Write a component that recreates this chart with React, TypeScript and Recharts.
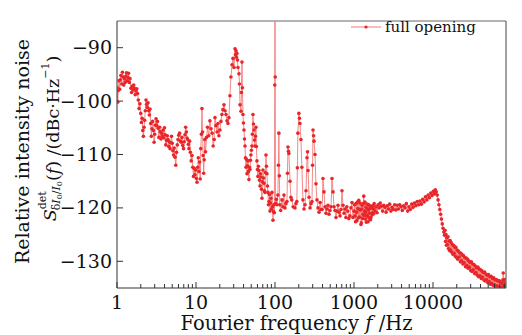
import React from 'react'
import { LineChart, Line, XAxis, YAxis, ReferenceLine, Legend } from 'recharts'

// axis settings
const freqDomain = [1, 84000]
const rinDomain = [-135, -85]
const majorFreqTicks = [1, 10, 100, 1000, 10000]
const minorFreqTicks = [
  2, 3, 4, 5, 6, 7, 8, 9,
  20, 30, 40, 50, 60, 70, 80, 90,
  200, 300, 400, 500, 600, 700, 800, 900,
  2000, 3000, 4000, 5000, 6000, 7000, 8000, 9000,
  20000, 30000, 40000, 50000, 60000, 70000, 80000
]
const rinTicks = [-130, -120, -110, -100, -90]

// [frequency Hz, RIN dBc/Hz] — 1 to 10 Hz
const band1to10: [number, number][] = [
  [1.0, -97.5], [1.02, -100.2], [1.04, -98], [1.06, -96.2], [1.08, -97.8], [1.1, -96], [1.12, -95.2],
  [1.15, -96.8], [1.17, -94.6], [1.2, -95.5], [1.22, -97], [1.25, -95.8], [1.27, -96.5], [1.3, -95.3],
  [1.32, -94.7], [1.35, -96.2], [1.38, -95.6], [1.4, -94.8], [1.43, -96.5], [1.46, -95.8], [1.5, -97.6],
  [1.53, -98.4], [1.56, -97.2], [1.6, -97.9], [1.63, -97], [1.66, -97.6], [1.7, -98.8], [1.74, -98.1],
  [1.78, -97.7], [1.82, -98.6], [1.86, -99.8], [1.9, -101.4], [1.95, -100.5], [2.0, -102.3], [2.04, -104],
  [2.08, -103.2], [2.12, -105.5], [2.16, -106.6], [2.2, -104.9], [2.24, -103.6], [2.28, -101.8], [2.33, -99.8],
  [2.37, -100.6], [2.42, -101.2], [2.47, -100.3], [2.52, -101.8], [2.57, -102.6], [2.62, -101.5], [2.67, -104.2],
  [2.72, -106.6], [2.77, -105.2], [2.83, -103.8], [2.89, -105.5], [2.95, -107.7], [3.0, -106.2], [3.06, -104.5],
  [3.12, -103.3], [3.18, -104.6], [3.25, -103.8], [3.32, -105.1], [3.39, -106.8], [3.46, -104.9], [3.53, -105.7],
  [3.6, -107.1], [3.67, -106], [3.75, -106.6], [3.83, -105.4], [3.91, -106.9], [3.99, -105], [4.07, -106.3],
  [4.15, -108.2], [4.24, -107.4], [4.33, -106.5], [4.42, -107.2], [4.51, -108.5], [4.6, -107.6], [4.7, -108.9],
  [4.8, -107.8], [4.9, -106.6], [5.0, -107.9], [5.1, -109.3], [5.2, -110.1], [5.3, -108.8], [5.42, -110.5],
  [5.55, -112], [5.67, -109.6], [5.8, -108.2], [5.92, -107.2], [6.05, -106.4], [6.2, -106], [6.35, -107.5],
  [6.5, -107.7], [6.65, -106.8], [6.8, -108.3], [6.95, -108.9], [7.1, -107.6], [7.25, -106.3], [7.4, -104.9],
  [7.55, -105.8], [7.7, -106.9], [7.85, -107.2], [8.0, -108.1], [8.15, -108.9], [8.3, -107.5], [8.5, -109.6],
  [8.7, -111.2], [8.9, -110.2], [9.1, -112.4], [9.3, -114.1], [9.5, -112.6], [9.7, -113.8], [9.9, -112.9]
]

// 10 to 100 Hz, incl. the 30 Hz hump and the 100 Hz line
const band10to100: [number, number][] = [
  [10.1, -114.5], [10.3, -115.2], [10.5, -112.4], [10.7, -110.6], [10.9, -113.2], [11.1, -111.4], [11.3, -114.6],
  [11.5, -108.9], [11.7, -106.2], [11.9, -101.4], [12.1, -105.8], [12.3, -110.2], [12.5, -113.5], [12.7, -111],
  [12.9, -107.2], [13.2, -109.5], [13.6, -106.8], [14.0, -104.9], [14.5, -106.5], [15.0, -103.7], [15.5, -105.2],
  [16.0, -106], [16.5, -108.4], [17.0, -107.2], [17.4, -103.1], [17.9, -104.6], [18.5, -105.8], [19.0, -104.2],
  [19.5, -106.5], [20.1, -105.4], [20.7, -103.8], [21.3, -102.5], [21.9, -101.6], [22.6, -100.7], [23.3, -101.8],
  [24.0, -102.5], [24.7, -103.7], [25.4, -104.2], [26.1, -103.1], [26.9, -99], [27.7, -95.5], [28.6, -93.2],
  [29.4, -92], [30.3, -93.7], [31.2, -90.2], [31.6, -91.3], [32.1, -90.6], [32.5, -91.8], [33, -91.1],
  [33.5, -92.3], [34, -93.7], [35, -94.9], [35.5, -96.8], [36.1, -100.7], [37.1, -101.9], [37.6, -98.4],
  [38.2, -92.7], [38.7, -97.5], [39.3, -102.5], [39.9, -104.1], [40.5, -105.4], [41.1, -107.1], [41.7, -108.4],
  [42.3, -110.6], [42.9, -112.4], [43.5, -110.9], [44.2, -113.6], [44.8, -112.1], [45.5, -111.2], [46.1, -113.2],
  [46.8, -114.7], [47.5, -112.4], [48.2, -112.8], [48.9, -111.1], [49.6, -110.1], [50.3, -109.2], [51.1, -108.4],
  [51.8, -106.2], [52.6, -102.5], [53.4, -104.3], [54.2, -105.4], [55, -107.3], [55.8, -108.4], [56.6, -106.6],
  [57.4, -104.9], [58.2, -108.5], [59.1, -111.2], [60, -112.8], [60.8, -114.1], [61.7, -112.2], [62.7, -113],
  [63.6, -114.8], [64.6, -115.9], [65.5, -113.6], [66.5, -114.2], [67.4, -116.5], [68.4, -118.2], [69.4, -115.1],
  [70.4, -112.9], [71.5, -114.4], [72.6, -115.4], [73.6, -116.8], [74.7, -117.1], [75.8, -113.4], [76.9, -110.1],
  [78, -112.2], [79.2, -113.6], [80.3, -115.9], [81.5, -117.1], [82.7, -119.4], [84, -118.8], [85.2, -117.5],
  [86.4, -120.6], [87.6, -119.1], [88.9, -118.2], [90.2, -120.2], [91.6, -117.1], [92.9, -119.8], [94.3, -122.3],
  [95.6, -120.7], [97, -119.4], [98.2, -120.9],
  [99.3, -97], [100, -80], [100.7, -95.5]
]

// 100 Hz to 1 kHz
const band100to1k: [number, number][] = [
  [101.5, -119.2], [104, -118.4], [106, -119.4], [108.8, -117.6], [110.5, -112], [112, -106], [113.5, -114],
  [115, -119.4], [118, -120.5], [122.6, -118.5], [126, -119.8], [129.9, -117.6], [133.6, -120], [137.5, -119.2],
  [141.7, -118.8], [144, -113.5], [146, -108.6], [148, -109.4], [150, -109.8], [155, -115], [159, -118],
  [163, -118.5], [170, -119.8], [179, -120], [184, -119.2], [189, -118.8], [192, -112.5], [195, -106],
  [200.5, -102.3], [204, -103.2], [207, -104.2], [213, -107.2], [219, -112.4], [226, -118.5], [233, -120.2],
  [240, -119.4], [247, -116.8], [254, -110.6], [258, -109.5], [262, -113], [270, -118], [278, -120],
  [286, -119.2], [294, -118.8], [299, -112], [303, -105.4], [308, -106.5], [312, -107.5], [321, -110],
  [330, -115.5], [340, -118.5], [350, -120], [361, -120.8], [372, -119], [383, -120.3], [395, -120.3],
  [405, -114.5], [417, -117], [430, -119.8], [442, -121], [455, -120.2], [469, -119.5], [483, -121.2],
  [497, -120.5], [512, -119.8], [527, -114.5], [543, -117], [559, -119.8], [575, -120.5], [592, -121.8],
  [609, -120.6], [627, -119.5], [646, -120.8], [665, -121.5], [685, -120.3], [705, -116.8], [726, -119.5],
  [748, -121], [770, -120.2], [790, -121.8], [812, -119.8], [835, -120.6], [860, -122], [889, -121.5],
  [915, -120], [943, -119], [970, -121.8], [1000, -120.6]
]

// 1 kHz to the relaxation peak near 11 kHz
const band1kTo11k: [number, number][] = [
  [1015, -119.4], [1030, -121.5], [1045, -122.6], [1060, -119.2], [1075, -120.8], [1090, -122.4], [1105, -118.9],
  [1120, -120.1], [1135, -121.9], [1150, -118.6], [1165, -120.3], [1180, -121.7], [1195, -119.1], [1210, -120.4],
  [1225, -123.1], [1240, -122.8], [1255, -120.2], [1270, -119.5], [1285, -122], [1300, -121.2], [1315, -119.2],
  [1330, -117.8], [1345, -121.4], [1360, -120.6], [1375, -118.9], [1390, -122.1], [1405, -120.8], [1420, -119.9],
  [1435, -122.7], [1450, -121.4], [1465, -119.3], [1480, -120.2], [1495, -121.6], [1510, -122.6], [1525, -120.4],
  [1540, -119.4], [1555, -121.9], [1570, -121], [1585, -119.6], [1600, -120.1], [1620, -122.2], [1640, -121.8],
  [1660, -119.9], [1680, -119.7], [1700, -121.3], [1720, -120.9], [1740, -119.6], [1760, -120.2], [1780, -121.1],
  [1800, -119.2], [1850, -120.6], [1900, -119.8], [1960, -120.9], [2020, -119.4], [2080, -120], [2150, -119.1],
  [2220, -119.7], [2300, -120.6], [2380, -119.5], [2460, -119.9], [2550, -120.8], [2640, -119.6], [2730, -120.2],
  [2830, -119.3], [2930, -120.6], [3040, -119.9], [3150, -120.3], [3270, -119.4], [3390, -120.4], [3520, -119.5],
  [3650, -120.2], [3790, -119.4], [3940, -119.8], [4090, -120.5], [4250, -119.6], [4420, -120], [4600, -119.2],
  [4780, -120.6], [4970, -119.8], [5170, -120.3], [5380, -119.3], [5600, -119.9], [5830, -119.1], [6070, -119.6],
  [6320, -118.8], [6580, -119.4], [6850, -118.7], [7130, -119.3], [7420, -118.4], [7720, -118.9], [8030, -117.9],
  [8350, -118.5], [8680, -117.6], [9020, -118.1], [9370, -117.2], [9730, -117.7], [10100, -116.9], [10400, -117.4],
  [10700, -116.6], [11000, -117]
]

// roll-off above the relaxation peak
const bandRollOff: [number, number][] = [
  [11300, -117.6], [11600, -118.5], [11900, -119.4], [12200, -120.3], [12500, -121.2], [12800, -122.1],
  [13100, -123], [13400, -123.8], [13700, -124.5], [14000, -125.1], [14200, -124.2], [14400, -126.3],
  [14600, -125], [14800, -127], [15000, -125.6], [15200, -126.9], [15500, -125.4], [15700, -127.6],
  [16000, -126.2], [16200, -128], [16500, -126.1], [16700, -127.9], [17000, -126.5], [17300, -128.3],
  [17600, -126.9], [17900, -128.7], [18200, -127], [18500, -128.5], [18800, -127.3], [19200, -129.1],
  [19500, -127.4], [19900, -129.3], [20200, -127.9], [20600, -129.6], [21000, -128.1], [21400, -129.2],
  [21800, -128.4], [22200, -130.1], [22600, -128.5], [23000, -129.9], [23400, -128.8], [23900, -130.5],
  [24300, -128.9], [24800, -130.3], [25300, -129.3], [25800, -131], [26300, -129.4], [26800, -130.8],
  [27300, -129.6], [27800, -131.3], [28300, -129.9], [28900, -131.1], [29400, -130.2], [30000, -131.7],
  [30600, -130.1], [31200, -131.9], [31800, -130.5], [32400, -131.6], [33000, -130.6], [33700, -132.3],
  [34300, -130.9], [35000, -132.1], [35700, -131.2], [36400, -132.6], [37100, -131.1], [37800, -132.9],
  [38500, -131.5], [39300, -132.7], [40000, -131.6], [40800, -133.2], [41600, -131.8], [42400, -133],
  [43200, -132.1], [44100, -133.5], [45000, -132], [45800, -133.7], [46700, -132.4], [47600, -133.4],
  [48500, -132.6], [49500, -134], [50400, -132.5], [51400, -133.8], [52400, -132.9], [53400, -134.3],
  [54400, -132.8], [55500, -134.1], [56600, -133.2], [57700, -134.5], [58800, -133.1], [60000, -134.4],
  [61100, -133.5], [62300, -134.7], [63500, -133.4], [64700, -134.6], [66000, -133.7], [67200, -134.9],
  [68500, -133.6], [69800, -134.8], [71100, -133.9], [72500, -134.9], [73900, -134.1], [75300, -134.8],
  [76400, -133.5], [77500, -132.2], [78300, -133.6], [79000, -134.5], [79800, -133.4], [80500, -134.9],
  [81300, -134.1], [82000, -134.8], [82800, -134.2], [83500, -134.9]
]

const rinData = [...band1to10, ...band10to100, ...band100to1k, ...band1kTo11k, ...bandRollOff].map(
  ([f, rin]) => ({ f, rin })
)

const allFreqTicks = [...majorFreqTicks, ...minorFreqTicks].sort((a, b) => a - b)

const FONT = '"DejaVu Serif", serif'
const AXIS = '#333'
const minus = (v: number) => String(v).replace('-', '\u2212')

const FreqTick = ({ x, y, payload }: any) => {
  const major = majorFreqTicks.includes(payload.value)
  return (
    <g>
      <line x1={x} x2={x} y1={y} y2={y - (major ? 6 : 4)} stroke={AXIS} />
      {major && (
        <text x={x} y={y + 21} textAnchor="middle" fontFamily={FONT} fontSize={19} fill="#111">
          {payload.value}
        </text>
      )}
    </g>
  )
}

const RinTick = ({ x, y, payload }: any) => (
  <g>
    <line x1={x} x2={x + 6} y1={y} y2={y} stroke={AXIS} />
    <text x={x - 5} y={y + 6.5} textAnchor="end" fontFamily={FONT} fontSize={19} fill="#111">
      {minus(payload.value)}
    </text>
  </g>
)

const XLabel = ({ viewBox }: any) => {
  const cx = viewBox.x + viewBox.width / 2 - 15
  return (
    <text x={cx} y={viewBox.y + 42} textAnchor="middle" fontFamily={FONT} fontSize={19.5} fill="#111">
      Fourier frequency <tspan fontStyle="italic">f</tspan> /Hz
    </text>
  )
}

const YLabel = ({ viewBox }: any) => {
  const cy = viewBox.y + viewBox.height / 2
  const x1 = viewBox.x - 35
  const x2 = viewBox.x - 7
  return (
    <g fontFamily={FONT} fill="#111">
      <text x={x1} y={cy - 3} transform={`rotate(-90, ${x1}, ${cy - 3})`} textAnchor="middle" fontSize={19} dominantBaseline="central">
        Relative intensity noise
      </text>
      <text x={x2} y={cy - 16} transform={`rotate(-90, ${x2}, ${cy - 16})`} textAnchor="middle" fontSize={17.5} dominantBaseline="central">
        <tspan fontStyle="italic">S</tspan>
        <tspan fontSize={11} dy={-8}>det</tspan>
        <tspan fontSize={11} dx={-19} dy={14}>δ<tspan fontStyle="italic">I</tspan></tspan>
        <tspan fontSize={8} dy={3}>0</tspan>
        <tspan fontSize={11} dy={-3}>/<tspan fontStyle="italic">I</tspan></tspan>
        <tspan fontSize={8} dy={3}>0</tspan>
        <tspan dy={-6}>(<tspan fontStyle="italic">f</tspan>) /(dBc·Hz</tspan>
        <tspan fontSize={11} dy={-8}>−1</tspan>
        <tspan dy={8}>)</tspan>
      </text>
    </g>
  )
}

const LegendBox = () => (
  <div style={{ display: 'flex', alignItems: 'center', fontFamily: FONT, fontSize: 15, color: '#111' }}>
    <svg width={34} height={10}>
      <line x1={0} x2={30} y1={5} y2={5} stroke="#f37b7b" strokeWidth={1} />
      <circle cx={15} cy={5} r={1.6} fill="#e8262a" />
    </svg>
    <span>full opening</span>
  </div>
)

export default function App() {
  return (
    <div style={{ position: 'absolute', left: 0, top: 0, width: 522, height: 335, background: '#fff' }}>
      <LineChart width={522} height={335} data={rinData} margin={{ top: 3, right: 16, bottom: 17, left: 57 }}>
        <XAxis
          dataKey="f"
          type="number"
          scale="log"
          domain={freqDomain}
          allowDataOverflow
          ticks={allFreqTicks}
          interval={0}
          tick={<FreqTick />}
          tickLine={false}
          tickSize={0}
          tickMargin={0}
          height={30}
          axisLine={{ stroke: AXIS }}
          label={<XLabel />}
        />
        <YAxis
          type="number"
          domain={rinDomain}
          allowDataOverflow
          ticks={rinTicks}
          interval={0}
          tick={<RinTick />}
          tickLine={false}
          tickSize={0}
          tickMargin={0}
          width={60}
          axisLine={{ stroke: AXIS }}
          label={<YLabel />}
        />
        <ReferenceLine y={rinDomain[1]} stroke="#666" />
        <ReferenceLine x={freqDomain[1]} stroke="#444" />
        <Legend
          verticalAlign="top"
          align="left"
          content={<LegendBox />}
          wrapperStyle={{ position: 'absolute', top: 18, left: 351, width: 150 }}
        />
        <Line
          type="linear"
          dataKey="rin"
          name="full opening"
          stroke="#f37b7b"
          strokeWidth={0.9}
          dot={{ r: 1.8, fill: '#e8262a', stroke: 'none' }}
          isAnimationActive={false}
        />
      </LineChart>
    </div>
  )
}
